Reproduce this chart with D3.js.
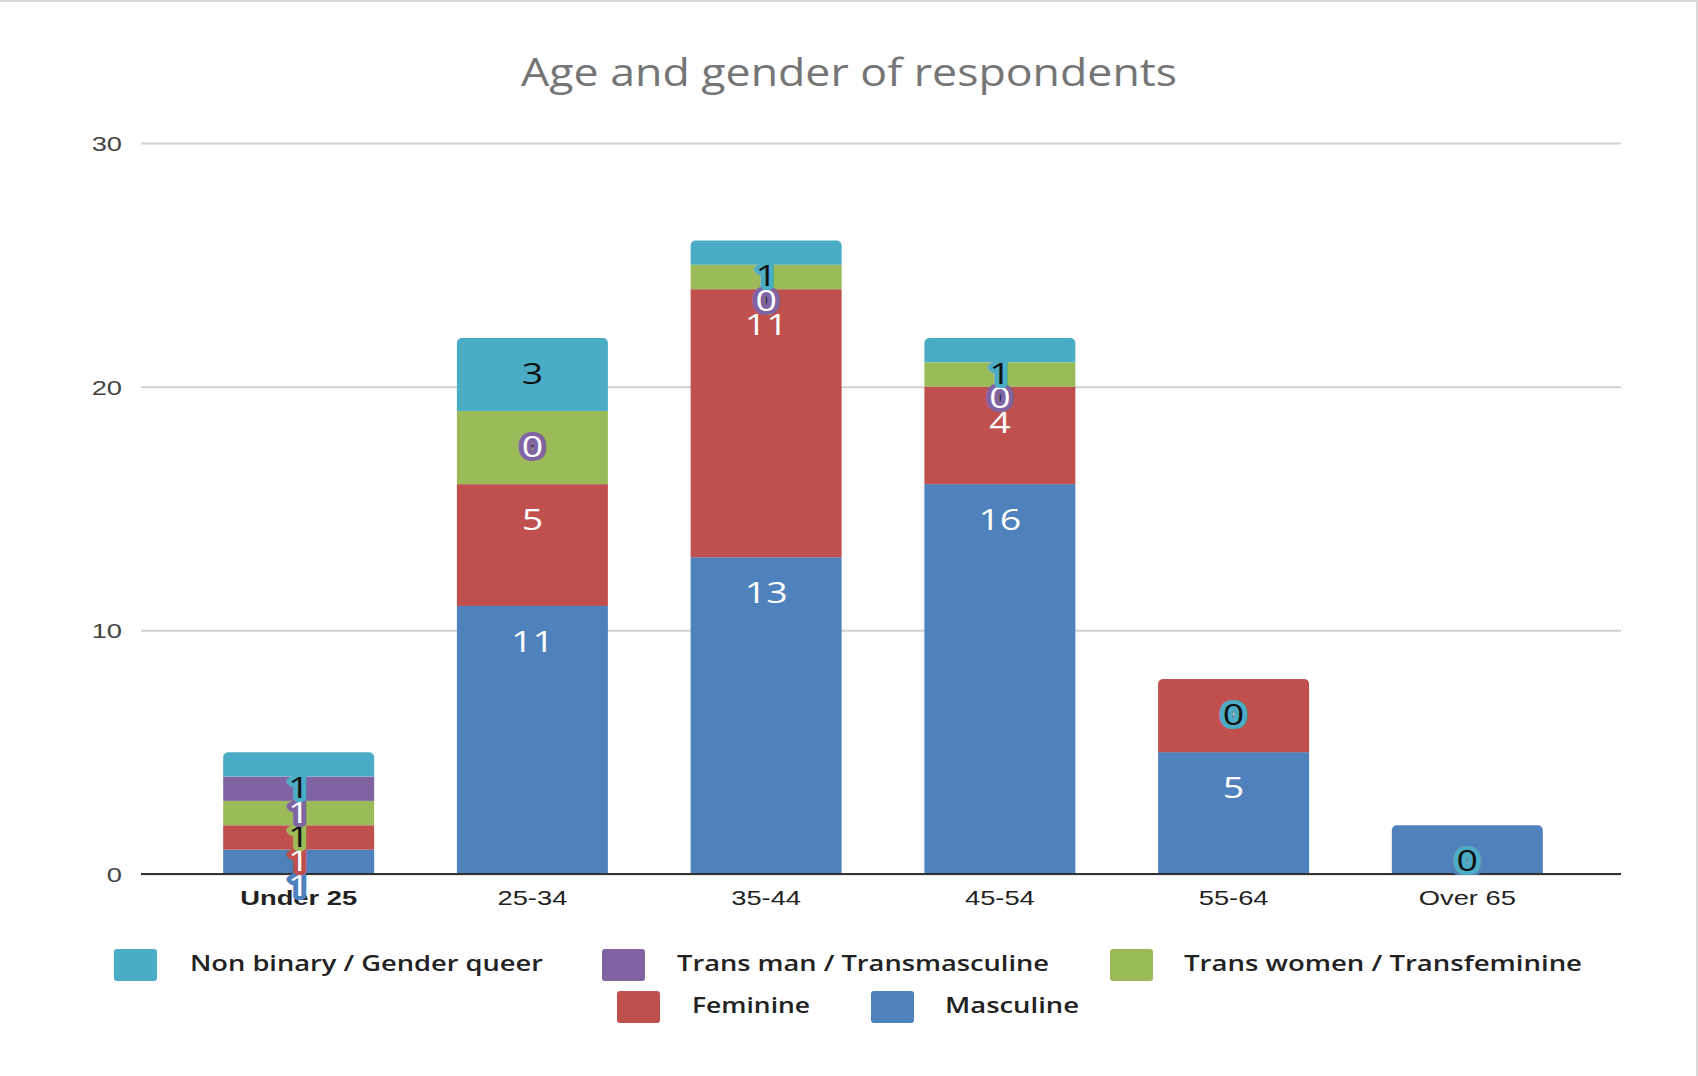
<!DOCTYPE html>
<html>
<head>
<meta charset="utf-8">
<script src="https://cdnjs.cloudflare.com/ajax/libs/d3/7.8.5/d3.min.js"></script>
<style>
  html, body { margin: 0; padding: 0; background: #fff; }
  svg { display: block; font-family: "Open Sans", "DejaVu Sans", sans-serif; }
</style>
</head>
<body>
<svg id="chart" width="1698" height="1076"></svg>
<script>
// ---- data ----
const categories = ["Under 25", "25-34", "35-44", "45-54", "55-64", "Over 65"];
const seriesKeys = ["masculine", "feminine", "transWomen", "transMan", "nonBinary"];
const seriesNames = ["Masculine", "Feminine", "Trans women / Transfeminine", "Trans man / Transmasculine", "Non binary / Gender queer"];
const seriesColors = ["#4f81bd", "#c0504d", "#9bbb59", "#8064a2", "#4bacc6"];
const labelFill = ["#ffffff", "#ffffff", "#111111", "#ffffff", "#111111"];
const masculine  = [1, 11, 13, 16, 5, 2];
const feminine   = [1, 5, 11, 4, 3, 0];
const transWomen = [1, 3, 1, 1, 0, 0];
const transMan   = [1, 0, 0, 0, 0, 0];
const nonBinary  = [1, 3, 1, 1, 0, 0];
const yTicks = [0, 10, 20, 30];

const seriesValues = { masculine, feminine, transWomen, transMan, nonBinary };
const table = categories.map((c, i) => {
  const row = { category: c };
  seriesKeys.forEach(k => row[k] = seriesValues[k][i]);
  return row;
});

const svg = d3.select("#chart");
const W = 1698, H = 1076;

// frame lines
svg.append("line").attr("x1", 0).attr("x2", W).attr("y1", 1).attr("y2", 1)
  .attr("stroke", "#d9d9d9").attr("stroke-width", 2);
svg.append("line").attr("x1", W - 1).attr("x2", W - 1).attr("y1", 0).attr("y2", H)
  .attr("stroke", "#d9d9d9").attr("stroke-width", 2);

const gridLeft = 141, gridRight = 1621;
const x = d3.scaleBand().domain(categories).range([143, 1623]).paddingInner(0.354).paddingOuter(0.343);
const y = d3.scaleLinear().domain([0, 30]).range([874, 143]);

function stretch(sel, k) {
  sel.each(function () {
    const w = this.getComputedTextLength();
    d3.select(this).attr("textLength", w * k).attr("lengthAdjust", "spacingAndGlyphs");
  });
}

// title
svg.append("text").attr("x", 849).attr("y", 86).attr("text-anchor", "middle")
  .attr("font-size", 38).attr("fill", "#757575")
  .text("Age and gender of respondents")
  .attr("textLength", 656).attr("lengthAdjust", "spacingAndGlyphs");

// gridlines + y axis
const yAxis = d3.axisLeft(y).tickValues(yTicks).tickSize(-(gridRight - gridLeft)).tickPadding(19).tickFormat(d3.format("d"));
const gy = svg.append("g").attr("transform", `translate(${gridLeft},0)`).call(yAxis);
gy.select(".domain").remove();
gy.selectAll(".tick line").attr("stroke", "#d0d0d0").attr("stroke-width", 2);
gy.selectAll(".tick text").attr("font-size", 21).attr("fill", "#444").attr("dy", "0.36em")
  .call(stretch, 1.3);

// stacked bars
const stack = d3.stack().keys(seriesKeys);
const stacked = stack(table);

const topKey = categories.map((c, i) => {
  let k = null;
  seriesKeys.forEach(s => { if (seriesValues[s][i] > 0) k = s; });
  return k;
});

const r = 5;
stacked.forEach((layer, li) => {
  const g = svg.append("g").attr("fill", seriesColors[li]);
  layer.forEach((d, i) => {
    const x0 = x(categories[i]), bw = x.bandwidth();
    const yt = y(d[1]), yb = y(d[0]);
    if (d[1] - d[0] <= 0) return;
    if (topKey[i] === layer.key) {
      const p = d3.path();
      p.moveTo(x0, yb);
      p.lineTo(x0, yt + r);
      p.arcTo(x0, yt, x0 + r, yt, r);
      p.lineTo(x0 + bw - r, yt);
      p.arcTo(x0 + bw, yt, x0 + bw, yt + r, r);
      p.lineTo(x0 + bw, yb);
      p.closePath();
      g.append("path").attr("d", p.toString());
    } else {
      g.append("rect").attr("x", x0).attr("y", yt).attr("width", bw).attr("height", yb - yt);
    }
  });
});

// baseline
svg.append("line").attr("x1", gridLeft).attr("x2", gridRight).attr("y1", y(0)).attr("y2", y(0))
  .attr("stroke", "#333").attr("stroke-width", 2);

// x axis labels
const xAxis = d3.axisBottom(x).tickSize(0).tickPadding(0);
const gx = svg.append("g").attr("transform", `translate(0,${y(0)})`).call(xAxis);
gx.select(".domain").remove();
gx.selectAll(".tick text").attr("font-size", 21).attr("fill", "#222").attr("y", 0).attr("dy", 31)
  .attr("font-weight", (d, i) => i === 0 ? 600 : 400)
  .call(stretch, 1.3);

// data labels: inside end of each segment
const labelOffset = 35;
stacked.forEach((layer, li) => {
  const g = svg.append("g");
  layer.forEach((d, i) => {
    const cx = x(categories[i]) + x.bandwidth() / 2;
    const cy = y(d[1]) + labelOffset;
    g.append("text").attr("x", cx).attr("y", cy + 11)
      .attr("text-anchor", "middle").attr("font-size", 30)
      .attr("fill", labelFill[li])
      .attr("stroke", seriesColors[li]).attr("stroke-width", 8)
      .attr("stroke-linejoin", "round").attr("paint-order", "stroke")
      .text(d.data[layer.key])
      .call(stretch, 1.25);
  });
});

// legend
const legendItems = [
  { key: "nonBinary", sx: 114, sy: 949, tx: 190, tw: 353 },
  { key: "transMan", sx: 602, sy: 949, tx: 677, tw: 372 },
  { key: "transWomen", sx: 1110, sy: 949, tx: 1184, tw: 398 },
  { key: "feminine", sx: 617, sy: 991, tx: 692, tw: 118 },
  { key: "masculine", sx: 871, sy: 991, tx: 945, tw: 134 }
];
const lg = svg.append("g");
legendItems.forEach(it => {
  const idx = seriesKeys.indexOf(it.key);
  lg.append("rect").attr("x", it.sx).attr("y", it.sy).attr("width", 43).attr("height", 32)
    .attr("rx", 3).attr("fill", seriesColors[idx]);
  lg.append("text").attr("x", it.tx).attr("y", it.sy + 14).attr("dy", "0.36em")
    .attr("font-size", 22).attr("font-weight", 600).attr("fill", "#222")
    .text(seriesNames[idx])
    .attr("textLength", it.tw).attr("lengthAdjust", "spacingAndGlyphs");
});
</script>
</body>
</html>
